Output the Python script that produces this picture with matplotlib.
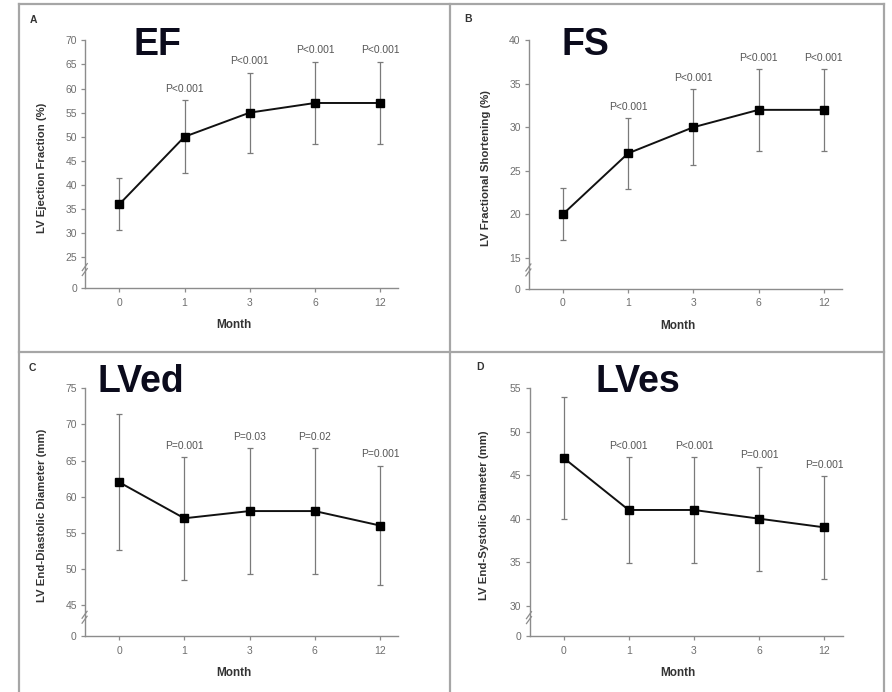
import matplotlib
matplotlib.use("Agg")
import matplotlib.pyplot as plt
from matplotlib.lines import Line2D

plt.rcParams['font.family'] = ['Liberation Sans', 'DejaVu Sans']

months = ["0", "1", "3", "6", "12"]

ef_mean = [36, 50, 55, 57, 57]
ef_sd = [5.4, 7.6, 8.3, 8.6, 8.6]
ef_p = ["", "P<0.001", "P<0.001", "P<0.001", "P<0.001"]
ef_ticks = [25, 30, 35, 40, 45, 50, 55, 60, 65, 70]

fs_mean = [20, 27, 30, 32, 32]
fs_sd = [3.0, 4.1, 4.4, 4.7, 4.7]
fs_p = ["", "P<0.001", "P<0.001", "P<0.001", "P<0.001"]
fs_ticks = [15, 20, 25, 30, 35, 40]

ed_mean = [62, 57, 58, 58, 56]
ed_sd = [9.4, 8.5, 8.7, 8.7, 8.3]
ed_p = ["", "P=0.001", "P=0.03", "P=0.02", "P=0.001"]
ed_ticks = [45, 50, 55, 60, 65, 70, 75]

es_mean = [47, 41, 41, 40, 39]
es_sd = [7.0, 6.1, 6.1, 6.0, 5.9]
es_p = ["", "P<0.001", "P<0.001", "P=0.001", "P=0.001"]
es_ticks = [30, 35, 40, 45, 50, 55]

W, H = 892, 692
fig = plt.figure(figsize=(W / 100, H / 100), dpi=100)

def fx(px):
    return px / W

def fy(py):
    return 1 - py / H

# panel frame lines
frame_col = '#a6a6a6'
for (x1, y1, x2, y2) in [(19, 4, 884, 4), (19, 352, 884, 352),
                         (19, 4, 19, 692), (450, 4, 450, 692), (884, 4, 884, 692)]:
    fig.add_artist(Line2D([fx(x1), fx(x2)], [fy(y1), fy(y2)], color=frame_col, lw=1.6))

panels = [
    ("A", "EF", "LV Ejection Fraction (%)", ef_mean, ef_sd, ef_p, ef_ticks, 18.57,
     85.4, 40.3, 288.3, (30, 20), (133, 45), 42),
    ("B", "FS", "LV Fractional Shortening (%)", fs_mean, fs_sd, fs_p, fs_ticks, 11.43,
     529.0, 40.3, 288.7, (464, 19), (561, 45), 486),
    ("C", "LVed", "LV End-Diastolic Diameter (mm)", ed_mean, ed_sd, ed_p, ed_ticks, 40.7,
     85.2, 388.3, 636.0, (29, 368), (97, 382), 42),
    ("D", "LVes", "LV End-Systolic Diameter (mm)", es_mean, es_sd, es_p, es_ticks, 26.5,
     529.6, 388.3, 636.0, (476, 367), (595, 382), 484),
]

axis_col = '#8c8c8c'
tick_col = '#6e6e6e'
xlim = (-0.52, 4.28)
width_px = 4.8 * 65.2

for (letter, big, ylabel, mean, sd, pl, ticks, y0, lpx, tpx, bpx, lpos, bpos, ylx) in panels:
    ax = fig.add_axes([fx(lpx), fy(bpx), fx(width_px), (bpx - tpx) / H])
    xs = list(range(len(months)))
    ax.errorbar(xs, mean, yerr=sd, fmt='none', ecolor='#7a7a7a', elinewidth=0.9,
                capsize=2.5, capthick=0.9, zorder=2)
    ax.plot(xs, mean, color='#111111', lw=1.4, marker='s', markersize=5.8,
            markerfacecolor='black', markeredgecolor='black', zorder=3)
    for x, m, s, t in zip(xs, mean, sd, pl):
        if t:
            ax.annotate(t, (x, m + s), xytext=(0, 8), textcoords='offset points',
                        ha='center', va='center', fontsize=7.4, color='#555555')
    ax.set_xlim(*xlim)
    ax.set_ylim(y0, ticks[-1])
    ax.set_xticks(xs)
    ax.set_xticklabels(months)
    ax.set_yticks([y0] + ticks)
    ax.set_yticklabels(["0"] + [str(t) for t in ticks])
    for side in ('top', 'right'):
        ax.spines[side].set_visible(False)
    for side in ('left', 'bottom'):
        ax.spines[side].set_color(axis_col)
        ax.spines[side].set_linewidth(1.0)
    ax.tick_params(axis='both', direction='out', length=3, width=0.9, color=axis_col,
                   labelsize=7.5, labelcolor=tick_col, pad=3)
    ax.tick_params(axis='x', pad=4)
    ax.patch.set_alpha(0)
    # break mark on the y axis
    yb = y0 + (ticks[0] - y0) * 0.62
    ymid = (yb - y0) / (ticks[-1] - y0)
    for dy in (-0.012, 0.008):
        ax.plot([-0.01, 0.006], [ymid + dy - 0.014, ymid + dy + 0.014], transform=ax.transAxes,
                color='#8c8c8c', lw=0.9, clip_on=False)
    # axis labels
    fig.text(fx(ylx), (fy(bpx) + fy(tpx)) / 2 - 0.005, ylabel, rotation=90, ha='center',
             va='center', fontsize=8.2, fontweight='bold', color='#333333')
    fig.text(fx(lpx + width_px / 2 - 8), fy(bpx + 37), "Month", ha='center', va='center',
             fontsize=8.5, fontweight='bold', color='#333333')
    fig.text(fx(lpos[0]), fy(lpos[1]), letter, ha='left', va='center', fontsize=7.5,
             fontweight='bold', color='#333333')
    fig.text(fx(bpos[0]), fy(bpos[1]), big, ha='left', va='center', fontsize=27,
             fontweight='bold', color='#0b0b1c')

fig.savefig("out.png", dpi=100)
